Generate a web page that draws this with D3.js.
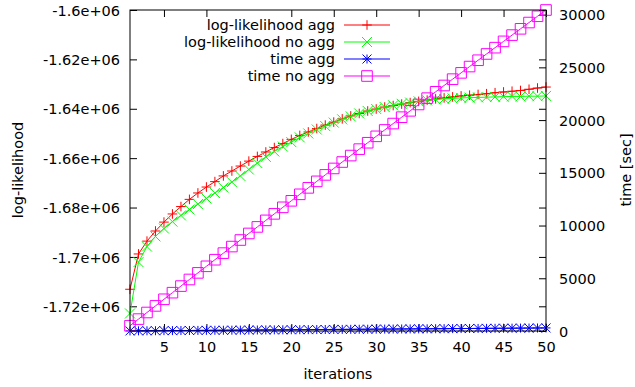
<!DOCTYPE html>
<html><head><meta charset="utf-8">
<script src="https://cdn.jsdelivr.net/npm/d3@7"></script>
<style>
html,body{margin:0;padding:0;background:#fff;}
svg text{font-family:"DejaVu Sans",sans-serif;font-size:14.5px;fill:#000;}
</style></head>
<body><svg id="c" width="635" height="387"></svg>
<script>
const iterations = d3.range(1, 51);
const llAgg = [-1713100,-1698800,-1693600,-1689500,-1685900,-1682600,-1679600,-1676700,-1674100,-1671700,
  -1669500,-1667200,-1665200,-1663200,-1661200,-1659300,-1657500,-1655700,-1654100,-1652400,
  -1650800,-1649400,-1648000,-1646600,-1645400,-1644100,-1642900,-1641900,-1640900,-1640100,
  -1639300,-1638700,-1638100,-1637500,-1637000,-1636500,-1636000,-1635600,-1635200,-1634800,
  -1634500,-1634200,-1633900,-1633500,-1633200,-1632900,-1632600,-1632100,-1631600,-1631200];
const llNoAgg = [-1722900,-1702100,-1695800,-1691700,-1688500,-1685700,-1683200,-1680800,-1678600,-1676300,
  -1674100,-1671900,-1669700,-1667200,-1664600,-1662000,-1659500,-1657300,-1655300,-1653500,
  -1651600,-1650000,-1648400,-1647000,-1645600,-1644300,-1643100,-1641900,-1640900,-1640100,
  -1639300,-1638600,-1638000,-1637500,-1637000,-1636600,-1636200,-1636000,-1635800,-1635600,
  -1635500,-1635400,-1635300,-1635200,-1635100,-1635000,-1635000,-1634900,-1634900,-1634800];
const timeAgg = [10,16,21,27,33,38,44,50,55,61,67,72,78,84,90,95,101,107,112,118,
  124,130,135,141,147,152,158,164,170,175,181,187,193,198,204,210,216,221,227,233,
  239,244,250,256,262,267,273,279,285,290];
const timeNoAgg = [500,1127,1754,2381,3007,3634,4260,4885,5511,6135,
  6759,7383,8006,8628,9249,9870,10490,11109,11727,12344,
  12960,13575,14189,14802,15414,16025,16635,17244,17852,18459,
  19065,19670,20274,20877,21479,22080,22681,23281,23880,24478,
  25076,25674,26270,26867,27463,28058,28654,29249,29844,30439];
const xTicks = [5,10,15,20,25,30,35,40,45,50];
const yTicks = [-1720000,-1700000,-1680000,-1660000,-1640000,-1620000,-1600000];
const yTickLabels = ["-1.72e+06","-1.7e+06","-1.68e+06","-1.66e+06","-1.64e+06","-1.62e+06","-1.6e+06"];
const y2Ticks = [0,5000,10000,15000,20000,25000,30000];
const seriesNames = ["log-likelihood agg","log-likelihood no agg","time agg","time no agg"];
const seriesColors = ["#ff0000","#00ff00","#0000ff","#ff00ff"];
const seriesMarkers = ["plus","cross","star","square"];

const L = 130, R = 546, T = 10, B = 331;
const svg = d3.select("#c");
const x = d3.scaleLinear().domain([1, 50]).range([L, R]);
const y = d3.scaleLinear().domain([-1730000, -1600000]).range([B, T]);
const y2 = d3.scaleLinear().domain([0, 30439]).range([B, T]);

function markerPath(type, s) {
  const p = d3.path();
  if (type === "plus" || type === "star") { p.moveTo(-s,0); p.lineTo(s,0); p.moveTo(0,-s); p.lineTo(0,s); }
  if (type === "cross" || type === "star") { p.moveTo(-s,-s); p.lineTo(s,s); p.moveTo(-s,s); p.lineTo(s,-s); }
  if (type === "square") { p.rect(-s,-s,2*s,2*s); }
  return p.toString();
}
const markerSize = {plus:4.8, cross:5, star:4.5, square:5.3};

// axes (inward ticks)
const gL = svg.append("g").attr("transform",`translate(${L},0)`)
  .call(d3.axisLeft(y).tickValues(yTicks).tickFormat((d,i)=>yTickLabels[i]).tickSize(-7).tickPadding(10));
const gRm = svg.append("g").attr("transform",`translate(${R},0)`)
  .call(d3.axisRight(y).tickValues(yTicks).tickFormat("").tickSize(-7));
const gR = svg.append("g").attr("transform",`translate(${R},0)`)
  .call(d3.axisRight(y2).tickValues(y2Ticks).tickFormat(d3.format("d")).tickSize(-7).tickPadding(13));
const gB = svg.append("g").attr("transform",`translate(0,${B})`)
  .call(d3.axisBottom(x).tickValues(xTicks).tickSize(-7).tickPadding(11));
const gT = svg.append("g").attr("transform",`translate(0,${T})`)
  .call(d3.axisTop(x).tickValues(xTicks.filter(v=>v!==15)).tickFormat("").tickSize(-7));
[gL,gRm,gR,gB,gT].forEach(g=>{
  g.select(".domain").remove();
  g.selectAll("line").attr("stroke","#000").attr("stroke-width",1);
  g.selectAll("text").attr("font-family",null).attr("font-size",null);
});
gL.selectAll("text").attr("dy","0.35em");
gR.selectAll("text").attr("dy","0.35em");

// axis titles
svg.append("text").attr("transform","translate(23,170) rotate(-90)").attr("text-anchor","middle").text("log-likelihood");
svg.append("text").attr("transform","translate(631,170) rotate(-90)").attr("text-anchor","middle").text("time [sec]");
svg.append("text").attr("x",(L+R)/2).attr("y",379).attr("text-anchor","middle").text("iterations");

// series
const series = [
  {vals: llAgg, sc: y}, {vals: llNoAgg, sc: y}, {vals: timeAgg, sc: y2}, {vals: timeNoAgg, sc: y2}
];
series.forEach((s,k)=>{
  const pts = iterations.map((it,i)=>[x(it), s.sc(s.vals[i])]);
  svg.append("path").attr("d", d3.line()(pts)).attr("fill","none")
    .attr("stroke", seriesColors[k]).attr("stroke-width",1);
  const mp = markerPath(seriesMarkers[k], markerSize[seriesMarkers[k]]);
  svg.append("g").selectAll("path").data(pts).join("path")
    .attr("transform", d=>`translate(${d[0]},${d[1]})`).attr("d", mp)
    .attr("fill","none").attr("stroke", seriesColors[k]).attr("stroke-width",1);
});

// border
svg.append("rect").attr("x",L).attr("y",T).attr("width",R-L).attr("height",B-T)
  .attr("fill","none").attr("stroke","#000").attr("stroke-width",1);

// legend
const legY = [25, 42, 59, 76];
seriesNames.forEach((name,k)=>{
  const g = svg.append("g").attr("transform",`translate(0,${legY[k]})`);
  g.append("text").attr("x",335).attr("y",0).attr("dy","0.35em").attr("text-anchor","end").text(name);
  g.append("line").attr("x1",344).attr("x2",390).attr("y1",0).attr("y2",0)
    .attr("stroke",seriesColors[k]).attr("stroke-width",1);
  g.append("path").attr("transform","translate(367,0)").attr("d", markerPath(seriesMarkers[k], markerSize[seriesMarkers[k]]))
    .attr("fill","none").attr("stroke",seriesColors[k]).attr("stroke-width",1);
});
</script></body></html>
